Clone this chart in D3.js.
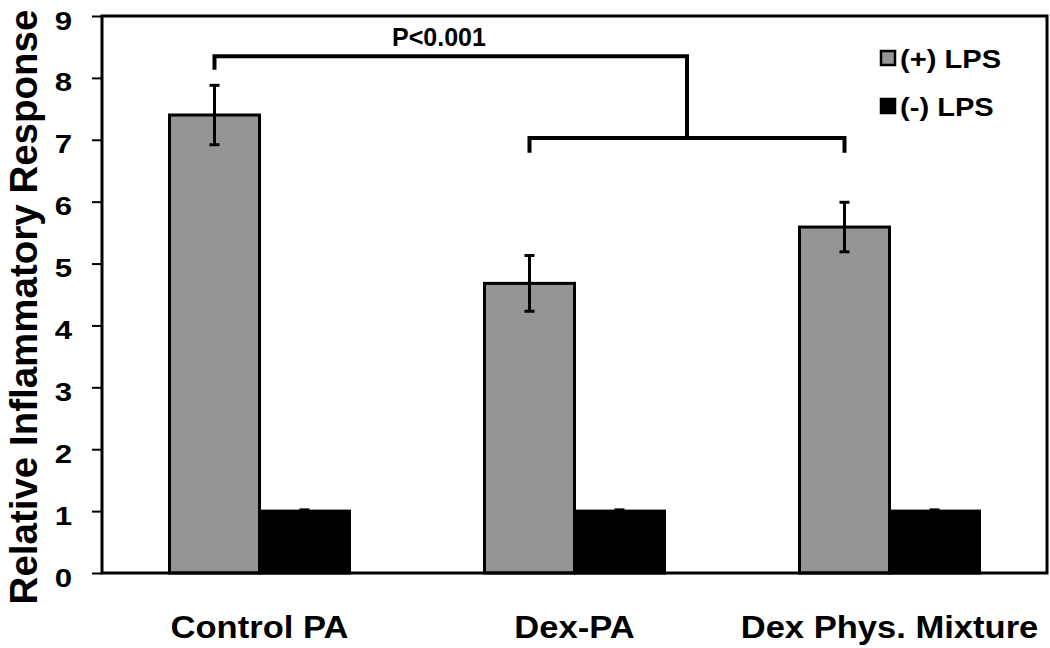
<!DOCTYPE html>
<html>
<head>
<meta charset="utf-8">
<script src="https://cdn.jsdelivr.net/npm/d3@7"></script>
<style>
  html, body { margin: 0; padding: 0; background: #fff; }
  svg { display: block; }
  text { font-family: "Liberation Sans", Arial, sans-serif; font-weight: bold; fill: #000; }
</style>
</head>
<body>
<svg id="chart" width="1050" height="648"></svg>
<script>
// ---- data ----
const categories = ["Control PA", "Dex-PA", "Dex Phys. Mixture"];
const seriesNames = ["(+) LPS", "(-) LPS"];
const seriesColors = ["#959595", "#000000"];
const plusLPS = [7.4, 4.68, 5.59];
const plusLPSErr = [0.48, 0.45, 0.40];
const minusLPS = [1.0, 1.0, 1.0];
const minusLPSErr = [0.02, 0.02, 0.02];
const yTicks = [0, 1, 2, 3, 4, 5, 6, 7, 8, 9];
const yTitle = "Relative Inflammatory Response";
const sigLabel = "P<0.001";
// significance brackets (y in data units)
const upperBracketLevel = 8.35;
const upperBracketTip = 8.13;
const lowerBracketLevel = 7.03;
const lowerBracketTip = 6.79;

// ---- layout ----
const svg = d3.select("#chart");
const plot = { left: 102, right: 1047, top: 16, bottom: 573 };

const y = d3.scaleLinear().domain([0, 9]).range([plot.bottom, plot.top]);
const x0 = d3.scaleBand().domain(categories).range([plot.left, plot.right])
  .paddingInner(0.4286).paddingOuter(0.2143);
const x1 = d3.scaleBand().domain(seriesNames).range([0, x0.bandwidth()]).padding(0);

const rows = categories.map((c, i) => ({
  cat: c,
  vals: [
    { s: seriesNames[0], v: plusLPS[i], e: plusLPSErr[i], color: seriesColors[0] },
    { s: seriesNames[1], v: minusLPS[i], e: minusLPSErr[i], color: seriesColors[1] }
  ]
}));

// bars
const g = svg.append("g");
const groups = g.selectAll("g.grp").data(rows).join("g")
  .attr("class", "grp")
  .attr("transform", d => `translate(${x0(d.cat)},0)`);

groups.selectAll("rect").data(d => d.vals).join("rect")
  .attr("x", d => x1(d.s))
  .attr("y", d => y(d.v))
  .attr("width", x1.bandwidth())
  .attr("height", d => y(0) - y(d.v))
  .attr("fill", d => d.color)
  .attr("stroke", "#000")
  .attr("stroke-width", 3);

// error bars
const eb = groups.selectAll("g.eb").data(d => d.vals).join("g").attr("class", "eb");
eb.append("line")
  .attr("x1", d => x1(d.s) + x1.bandwidth() / 2)
  .attr("x2", d => x1(d.s) + x1.bandwidth() / 2)
  .attr("y1", d => y(d.v + d.e))
  .attr("y2", d => y(d.v - d.e))
  .attr("stroke", "#000").attr("stroke-width", 3);
eb.selectAll("line.cap").data(d => [[d, d.v + d.e], [d, d.v - d.e]]).join("line")
  .attr("class", "cap")
  .attr("x1", d => x1(d[0].s) + x1.bandwidth() / 2 - 5)
  .attr("x2", d => x1(d[0].s) + x1.bandwidth() / 2 + 5)
  .attr("y1", d => y(d[1]))
  .attr("y2", d => y(d[1]))
  .attr("stroke", "#000").attr("stroke-width", 3);

// frame
svg.append("rect")
  .attr("x", plot.left).attr("y", plot.top)
  .attr("width", plot.right - plot.left).attr("height", plot.bottom - plot.top)
  .attr("fill", "none").attr("stroke", "#000").attr("stroke-width", 3);

// y axis
const yAxis = svg.append("g")
  .attr("transform", `translate(${plot.left},0)`)
  .call(d3.axisLeft(y).tickValues(yTicks).tickSize(10).tickFormat(d3.format("d")));
yAxis.select(".domain").remove();
yAxis.selectAll(".tick line").attr("stroke", "#000").attr("stroke-width", 2);
yAxis.selectAll(".tick text")
  .attr("x", 0).attr("dy", null)
  .attr("transform", "translate(-30,13) scale(1.2,1)")
  .style("font-size", "26px")
  .style("font-family", "'Liberation Sans', Arial, sans-serif")
  .style("font-weight", "bold")
  .attr("fill", "#000");

// y title
svg.append("text")
  .attr("transform", `translate(37,307) rotate(-90)`)
  .attr("text-anchor", "middle")
  .style("font-size", "38.5px")
  .text(yTitle);

// category labels
svg.append("g").selectAll("text").data(categories).join("text")
  .attr("transform", d => `translate(${x0(d) + x0.bandwidth() / 2},638) scale(1.08,1)`)
  .attr("text-anchor", "middle")
  .style("font-size", "32px")
  .text(d => d);

// significance brackets
const gCenter = c => x0(c) + x1(seriesNames[0]) + x1.bandwidth() / 2;
const leftX = gCenter(categories[0]);
const lowL = gCenter(categories[1]);
const lowR = gCenter(categories[2]);
const midX = (lowL + lowR) / 2;
const line = d3.line();
const br = svg.append("g").attr("fill", "none").attr("stroke", "#000").attr("stroke-width", 4);
br.append("path").attr("d", line([
  [leftX, y(upperBracketTip)], [leftX, y(upperBracketLevel)],
  [midX, y(upperBracketLevel)], [midX, y(lowerBracketLevel)]
]));
br.append("path").attr("d", line([
  [lowL, y(lowerBracketTip)], [lowL, y(lowerBracketLevel)],
  [lowR, y(lowerBracketLevel)], [lowR, y(lowerBracketTip)]
]));
svg.append("text")
  .attr("x", 439).attr("y", 46)
  .attr("text-anchor", "middle")
  .style("font-size", "25px")
  .text(sigLabel);

// legend
const leg = svg.append("g").attr("transform", "translate(880,0)");
const legItems = leg.selectAll("g").data(seriesNames).join("g")
  .attr("transform", (d, i) => `translate(0,${68 + i * 48})`);
legItems.append("rect")
  .attr("x", 1).attr("y", -17).attr("width", 14).attr("height", 14)
  .attr("fill", (d, i) => seriesColors[i])
  .attr("stroke", "#000").attr("stroke-width", 2.5);
legItems.append("text")
  .attr("transform", "translate(20,0) scale(1.12,1)")
  .style("font-size", "26px")
  .text(d => d);
</script>
</body>
</html>
